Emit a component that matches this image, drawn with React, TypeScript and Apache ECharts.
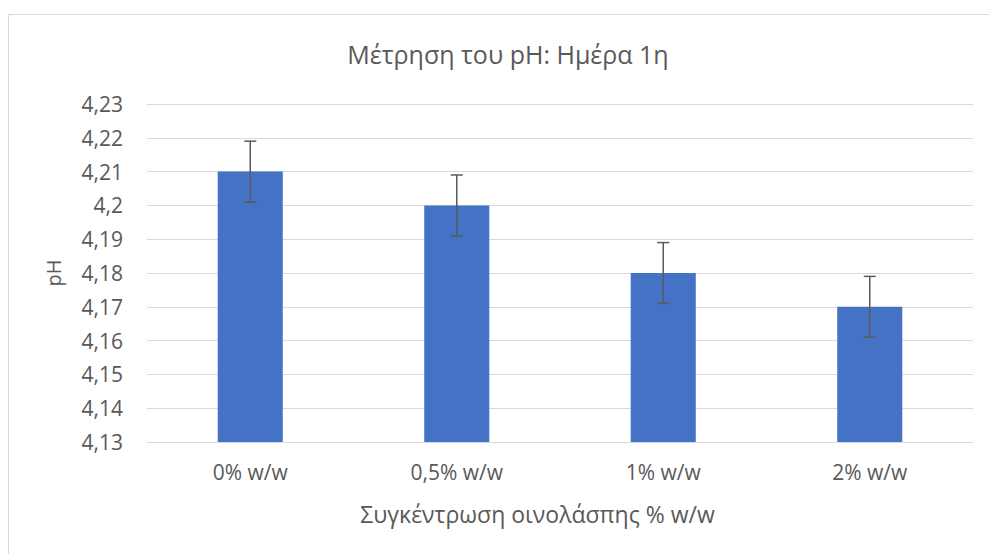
import React, { useEffect, useRef } from "react";
import * as echarts from "echarts";

const categories = ["0% w/w", "0,5% w/w", "1% w/w", "2% w/w"];
const phValues = [4.21, 4.2, 4.18, 4.17];
const phErrors = [0.009, 0.009, 0.009, 0.009];
const titleText = "Μέτρηση του pH: Ημέρα 1η";
const xAxisName = "Συγκέντρωση οινολάσπης % w/w";
const yAxisName = "pH";

const FONT = "'Open Sans', 'Noto Sans', sans-serif";
const GREY = "#595959";

export default function App() {
  const ref = useRef<HTMLDivElement>(null);
  useEffect(() => {
    document.body.style.margin = "0";
    const chart = echarts.init(ref.current!, undefined, { renderer: "svg" });
    const errData = phValues.map((v, i) => [i, v - phErrors[i], v + phErrors[i]]);
    chart.setOption({
      animation: false,
      backgroundColor: "#ffffff",
      title: {
        text: titleText,
        left: 503,
        textAlign: "center",
        top: 36,
        textStyle: { fontFamily: FONT, fontSize: 25, fontWeight: "normal", color: GREY },
      },
      graphic: [
        {
          type: "rect",
          shape: { x: 8.5, y: 14.5, width: 1200, height: 800 },
          style: { fill: "none", stroke: "#d9d9d9", lineWidth: 1 },
          silent: true,
        },
      ],
      grid: { left: 147, right: 16, top: 104, bottom: 112, containLabel: false },
      xAxis: {
        type: "category",
        data: categories,
        name: xAxisName,
        nameLocation: "middle",
        nameGap: 60,
        nameTextStyle: { fontFamily: FONT, fontSize: 23, color: GREY, padding: [0, 45, 0, 0] },
        axisLine: { show: true, lineStyle: { color: "#d9d9d9", width: 1 } },
        axisTick: { show: false },
        axisLabel: { fontFamily: FONT, fontSize: 21, color: GREY, margin: 19 },
      },
      yAxis: {
        type: "value",
        min: 4.13,
        max: 4.23,
        interval: 0.01,
        name: yAxisName,
        nameLocation: "middle",
        nameRotate: 90,
        nameGap: 84,
        nameTextStyle: { fontFamily: FONT, fontSize: 20, color: GREY },
        axisLine: { show: false },
        axisTick: { show: false },
        splitLine: { lineStyle: { color: "#d9d9d9", width: 1 } },
        axisLabel: {
          fontFamily: FONT,
          fontSize: 21,
          color: GREY,
          margin: 24,
          formatter: (v: number) => String(parseFloat(v.toFixed(2))).replace(".", ","),
        },
      },
      series: [
        {
          type: "bar",
          data: phValues,
          barWidth: "31.5%",
          itemStyle: { color: "#4472C4" },
        },
        {
          type: "custom",
          data: errData,
          z: 10,
          renderItem: (params: any, api: any) => {
            const i = api.value(0);
            const lo = api.coord([i, api.value(1)]);
            const hi = api.coord([i, api.value(2)]);
            const hw = 6;
            const style = { stroke: GREY, lineWidth: 1.5, fill: "none" };
            return {
              type: "group",
              children: [
                { type: "line", shape: { x1: hi[0], y1: hi[1], x2: lo[0], y2: lo[1] }, style },
                { type: "line", shape: { x1: hi[0] - hw, y1: hi[1], x2: hi[0] + hw, y2: hi[1] }, style },
                { type: "line", shape: { x1: lo[0] - hw, y1: lo[1], x2: lo[0] + hw, y2: lo[1] }, style },
              ],
            };
          },
        },
      ],
    });
    return () => chart.dispose();
  }, []);
  return <div ref={ref} style={{ width: 989, height: 554 }} />;
}
